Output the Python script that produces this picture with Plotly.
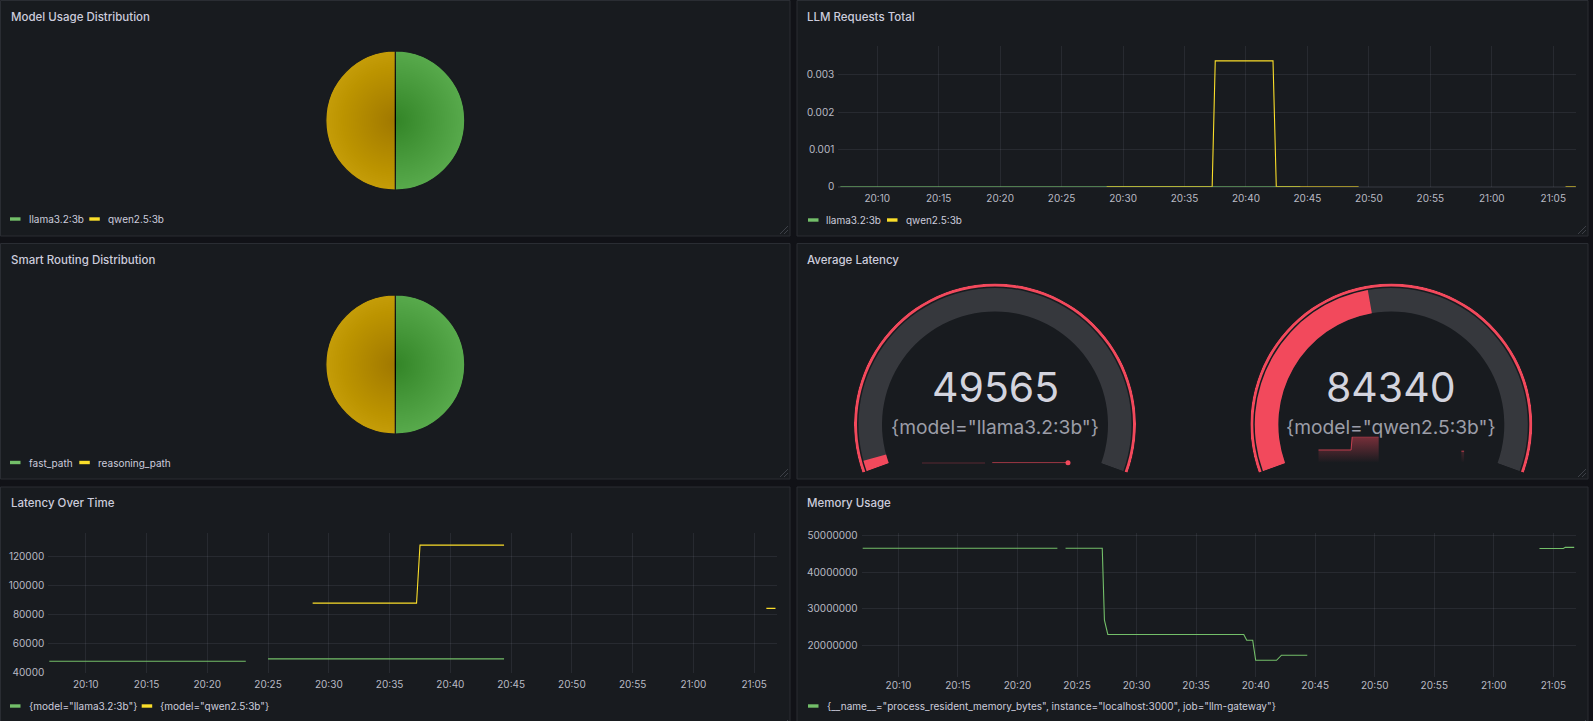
import plotly.graph_objects as go

W, H = 1593, 721
DATE = "2025-01-01 "

# ---------------- data ----------------
usage_labels = ["llama3.2:3b", "qwen2.5:3b"]
usage_values = [1, 1]
routing_labels = ["fast_path", "reasoning_path"]
routing_values = [1, 1]

req_llama_time = ["20:07:00", "20:44:25"]
req_llama_value = [0, 0]
req_qwen_time = ["20:28:40", "20:37:15", "20:37:30", "20:40:40", "20:41:00", "20:41:40",
                 "20:41:55", "20:42:12", "20:42:28", "20:49:10", "20:55:00", "21:06:00", "21:06:50"]
req_qwen_value = [0, 0, 0.00337, 0.00337, 0.00339, 0.00339,
                  0.00337, 0.00337, 0, 0, None, 0, 0]

lat_llama_time = ["20:07:00", "20:23:10", "20:24:00", "20:25:00", "20:44:25"]
lat_llama_value = [47900, 47900, None, 49565, 49565]
lat_qwen_time = ["20:28:40", "20:37:13", "20:37:30", "20:44:25", "20:55:00", "21:06:00", "21:06:45"]
lat_qwen_value = [88000, 88000, 128000, 128000, None, 84340, 84340]

mem_time = ["20:07:00", "20:23:21", "20:23:40", "20:24:02", "20:27:07", "20:27:18", "20:27:35",
            "20:39:00", "20:39:15", "20:39:45", "20:40:00", "20:41:45", "20:42:10", "20:44:20",
            "20:55:00", "21:03:50", "21:05:50", "21:06:00", "21:06:45"]
mem_value = [46540000, 46540000, None, 46540000, 46540000, 26800000, 22900000,
             22900000, 21300000, 21300000, 15800000, 15800000, 17200000, 17200000,
             None, 46500000, 46500000, 46800000, 46800000]

gauge_labels = ['{model="llama3.2:3b"}', '{model="qwen2.5:3b"}']
gauge_values = [49565, 84340]

req_yticks = [0, 0.001, 0.002, 0.003]
lat_yticks = [40000, 60000, 80000, 100000, 120000]
mem_yticks = [20000000, 30000000, 40000000, 50000000]
mem_legend = '{__name__="process_resident_memory_bytes", instance="localhost:3000", job="llm-gateway"}'

# ---------------- style ----------------
PAGE_BG = "#111217"
PANEL_BG = "#181b1f"
PANEL_BORDER = "#2a2d33"
GRID = "rgba(204,204,220,0.09)"
TXT = "#ccccdc"
TICK = "#b9bac4"
GREEN = "#73bf69"
YELLOW = "#fade2a"
RED = "#f2495c"
PIE_GREEN = "#57a94b"
PIE_YELLOW = "#c49c08"
TRACK = "#36383d"
FONT = "Inter, Roboto, sans-serif"


def xp(px):
    return px / W


def yp(py):
    return 1 - py / H


def T(lst):
    return [DATE + t for t in lst]


def segments(times, values):
    segs, cur = [], ([], [])
    for t, v in zip(times, values):
        if v is None:
            if cur[0]:
                segs.append(cur)
            cur = ([], [])
        else:
            cur[0].append(t)
            cur[1].append(v)
    if cur[0]:
        segs.append(cur)
    return segs


fig = go.Figure()
shapes = []
annotations = []

# panels
panels = [
    (0.5, 0.5, 790, 236, "Model Usage Distribution"),
    (797, 0.5, 1588, 236, "LLM Requests Total"),
    (0.5, 243.5, 790, 479, "Smart Routing Distribution"),
    (797, 243.5, 1588, 479, "Average Latency"),
    (0.5, 487, 790, 730, "Latency Over Time"),
    (797, 487, 1588, 730, "Memory Usage"),
]
for (x0, y0, x1, y1, title) in panels:
    shapes.append(dict(type="rect", xref="paper", yref="paper", layer="below",
                       x0=xp(x0), x1=xp(x1), y0=yp(y1), y1=yp(y0),
                       fillcolor=PANEL_BG, line=dict(color=PANEL_BORDER, width=1)))
    annotations.append(dict(xref="paper", yref="paper", x=xp(x0 + 8), y=yp(y0 + 16.3),
                            xanchor="left", yanchor="middle", showarrow=False, text=title,
                            font=dict(family=FONT, size=11.5, color=TXT, weight=500)))
    for d in (4, 8):
        shapes.append(dict(type="line", xref="paper", yref="paper",
                           x0=xp(x1 - 2), y0=yp(y1 - 2 - d), x1=xp(x1 - 2 - d), y1=yp(y1 - 2),
                           line=dict(color="#3d4047", width=1)))


def legend(items, y):
    for (x, color, text) in items:
        shapes.append(dict(type="rect", xref="paper", yref="paper", layer="above",
                           x0=xp(x), x1=xp(x + 10.5), y0=yp(y + 1.7), y1=yp(y - 1.7),
                           fillcolor=color, line=dict(width=0)))
        annotations.append(dict(xref="paper", yref="paper", x=xp(x + 16.5), y=yp(y),
                                xanchor="left", yanchor="middle", showarrow=False, text=text,
                                font=dict(family=FONT, size=10, color=TXT)))


# ---------------- pies ----------------
def pie(labels, values, cy, legend_y, legend_x):
    cx, r = 395.3, 69.5
    fig.add_trace(go.Pie(labels=labels, values=values, sort=False, direction="clockwise",
                         rotation=0, textinfo="none", hoverinfo="label+value",
                         marker=dict(colors=[PIE_GREEN, PIE_YELLOW], line=dict(color=PANEL_BG, width=1.2)),
                         domain=dict(x=[xp(cx - r), xp(cx + r)], y=[yp(cy + r), yp(cy - r)]),
                         showlegend=False))
    n = 36
    for k in range(1, n + 1):
        rk = r * k / (n + 1)
        shapes.append(dict(type="circle", xref="paper", yref="paper", layer="above",
                           x0=xp(cx - rk), x1=xp(cx + rk), y0=yp(cy + rk), y1=yp(cy - rk),
                           fillcolor="rgba(0,0,0,0.0056)", line=dict(width=0)))
    legend([(legend_x[0], GREEN, labels[0]), (legend_x[1], YELLOW, labels[1])], legend_y)


pie(usage_labels, usage_values, 120.5, 219, (10, 89.3))
pie(routing_labels, routing_values, 364.5, 462.5, (10, 79.3))

# ---------------- time series ----------------
line_w = 1.1
fig.add_trace(go.Scatter(x=T(req_llama_time), y=req_llama_value, mode="lines", name=usage_labels[0],
                         line=dict(color=GREEN, width=line_w), xaxis="x", yaxis="y", showlegend=False))
fig.add_trace(go.Scatter(x=T(req_qwen_time), y=req_qwen_value, mode="lines", name=usage_labels[1],
                         line=dict(color=YELLOW, width=line_w), xaxis="x", yaxis="y", showlegend=False))
legend([(808, GREEN, usage_labels[0]), (887, YELLOW, usage_labels[1])], 220)

fig.add_trace(go.Scatter(x=T(lat_llama_time), y=lat_llama_value, mode="lines", name=gauge_labels[0],
                         line=dict(color=GREEN, width=line_w), xaxis="x2", yaxis="y2", showlegend=False))
fig.add_trace(go.Scatter(x=T(lat_qwen_time), y=lat_qwen_value, mode="lines", name=gauge_labels[1],
                         line=dict(color=YELLOW, width=line_w), xaxis="x2", yaxis="y2", showlegend=False))
legend([(10, GREEN, gauge_labels[0]), (141.7, YELLOW, gauge_labels[1])], 706)

fig.add_trace(go.Scatter(x=T(mem_time), y=mem_value, mode="lines", name="memory",
                         line=dict(color=GREEN, width=line_w), xaxis="x3", yaxis="y3", showlegend=False))
legend([(808, GREEN, mem_legend)], 706)


def time_axes(xd, yd, xr, yr, ticks, fmt, standoff=4):
    xa = dict(domain=[xp(xd[0]), xp(xd[1])], type="date", range=[DATE + xr[0], DATE + xr[1]],
              tickformat="%H:%M", dtick=300000, tick0=DATE + "20:10:00", showgrid=True,
              gridcolor=GRID, gridwidth=1, zeroline=False, showline=False, ticks="",
              tickfont=dict(family=FONT, size=10, color=TICK), ticklabelstandoff=standoff,
              automargin=False, fixedrange=True)
    ya = dict(domain=[yp(yd[1]), yp(yd[0])], range=yr, tickvals=ticks, tickformat=fmt,
              showgrid=True, gridcolor=GRID, gridwidth=1, zeroline=False, showline=False, ticks="",
              tickfont=dict(family=FONT, size=10, color=TICK), ticklabelstandoff=3,
              automargin=False, fixedrange=True)
    return xa, ya


xa1, ya1 = time_axes((838.3, 1576), (46, 186.7), ("20:06:50", "21:06:51"), [0, 0.003769], req_yticks, "")
xa2, ya2 = time_axes((48.3, 777.3), (533.3, 672.7), ("20:06:55", "21:06:54"), [40000, 136138], lat_yticks, "d")
xa3, ya3 = time_axes((861.7, 1576), (533.3, 676.7), ("20:06:55", "21:06:54"), [11300000, 50660000],
                     mem_yticks, "d", standoff=1)
ya1["zeroline"] = True
ya1["zerolinecolor"] = GRID
xa1["anchor"] = "y"; ya1["anchor"] = "x"
xa2["anchor"] = "y2"; ya2["anchor"] = "x2"
xa3["anchor"] = "y3"; ya3["anchor"] = "x3"

# ---------------- gauges ----------------
all_lat = [v for v in lat_llama_value + lat_qwen_value if v is not None]
gauge_min, gauge_max = min(all_lat), max(all_lat)
SPAN = 220.0
R = 141.0
cy_g = 424.5
gauge_cx = [995, 1391.3]
spark_series = [(lat_llama_time, lat_llama_value), (lat_qwen_time, lat_qwen_value)]
polars = {}
spark_axes = {}
for i, (cx, val, lab) in enumerate(zip(gauge_cx, gauge_values, gauge_labels)):
    pname = "polar" if i == 0 else "polar%d" % (i + 1)
    # sector [-20, 200] spans through 0 and 180 deg -> bbox is 2R wide, 1.342R tall
    polars[pname] = dict(
        domain=dict(x=[xp(cx - R), xp(cx + R)], y=[yp(cy_g + 0.34202 * R), yp(cy_g - R)]),
        sector=[-20, 200], hole=0, bgcolor="rgba(0,0,0,0)",
        radialaxis=dict(range=[0, R], visible=False),
        angularaxis=dict(visible=False, rotation=200, direction="clockwise", thetaunit="degrees"))
    frac = (val - gauge_min) / (gauge_max - gauge_min)
    deg = frac * SPAN
    fig.add_trace(go.Barpolar(r=[23.5, 3], base=[113, 138], theta=[SPAN / 2, SPAN / 2], width=[SPAN, SPAN],
                              marker=dict(color=[TRACK, RED], line=dict(width=0)),
                              subplot=pname, showlegend=False, hoverinfo="skip"))
    fig.add_trace(go.Barpolar(r=[23.5], base=[113], theta=[deg / 2], width=[deg],
                              marker=dict(color=[RED], line=dict(width=0)),
                              subplot=pname, showlegend=False, name=lab))
    annotations.append(dict(xref="paper", yref="paper", x=xp(cx), y=yp(387.3), xanchor="center",
                            yanchor="middle", showarrow=False, text=str(val),
                            font=dict(family=FONT, size=41, color="#d3d4de")))
    annotations.append(dict(xref="paper", yref="paper", x=xp(cx), y=yp(427), xanchor="center",
                            yanchor="middle", showarrow=False, text=lab,
                            font=dict(family=FONT, size=19.2, color="#9c9ea8")))
    # sparkline
    st, sv = spark_series[i]
    xr, yr = "x%d" % (4 + i), "y%d" % (4 + i)
    spark_axes["xaxis%d" % (4 + i)] = dict(domain=[xp(cx - 73), xp(cx + 73)], type="date", anchor=yr,
                                           range=[DATE + st[0], DATE + st[-1]], visible=False, fixedrange=True)
    spark_axes["yaxis%d" % (4 + i)] = dict(domain=[yp(463.3), yp(436.7)], anchor=xr,
                                           range=[gauge_min, gauge_max], visible=False, fixedrange=True)
    for (seg_t, seg_v) in segments(st, sv):
        fig.add_trace(go.Scatter(x=T(seg_t), y=seg_v, mode="lines", xaxis=xr, yaxis=yr, fill="tozeroy",
                                 fillgradient=dict(type="vertical", start=gauge_min, stop=gauge_max,
                                                   colorscale=[[0, "rgba(242,73,92,0)"],
                                                               [1, "rgba(242,73,92,0.45)"]]),
                                 line=dict(color="rgba(242,73,92,0.75)", width=1), showlegend=False,
                                 hoverinfo="skip"))
    if i == 0:
        last_seg = segments(st, sv)[-1]
        fig.add_trace(go.Scatter(x=[DATE + last_seg[0][-1]], y=[last_seg[1][-1]], mode="markers",
                                 xaxis=xr, yaxis=yr, marker=dict(color=RED, size=5), showlegend=False,
                                 hoverinfo="skip", cliponaxis=False))

fig.update_layout(
    width=W, height=H, margin=dict(l=0, r=0, t=0, b=0, pad=0, autoexpand=False),
    paper_bgcolor=PAGE_BG, plot_bgcolor="rgba(0,0,0,0)",
    showlegend=False, font=dict(family=FONT, color=TXT),
    xaxis=xa1, yaxis=ya1, xaxis2=xa2, yaxis2=ya2, xaxis3=xa3, yaxis3=ya3,
    shapes=shapes, annotations=annotations, **polars, **spark_axes,
)

fig.write_html("out.html",
               post_script="document.body.style.margin='0';document.body.style.overflow='hidden';")
